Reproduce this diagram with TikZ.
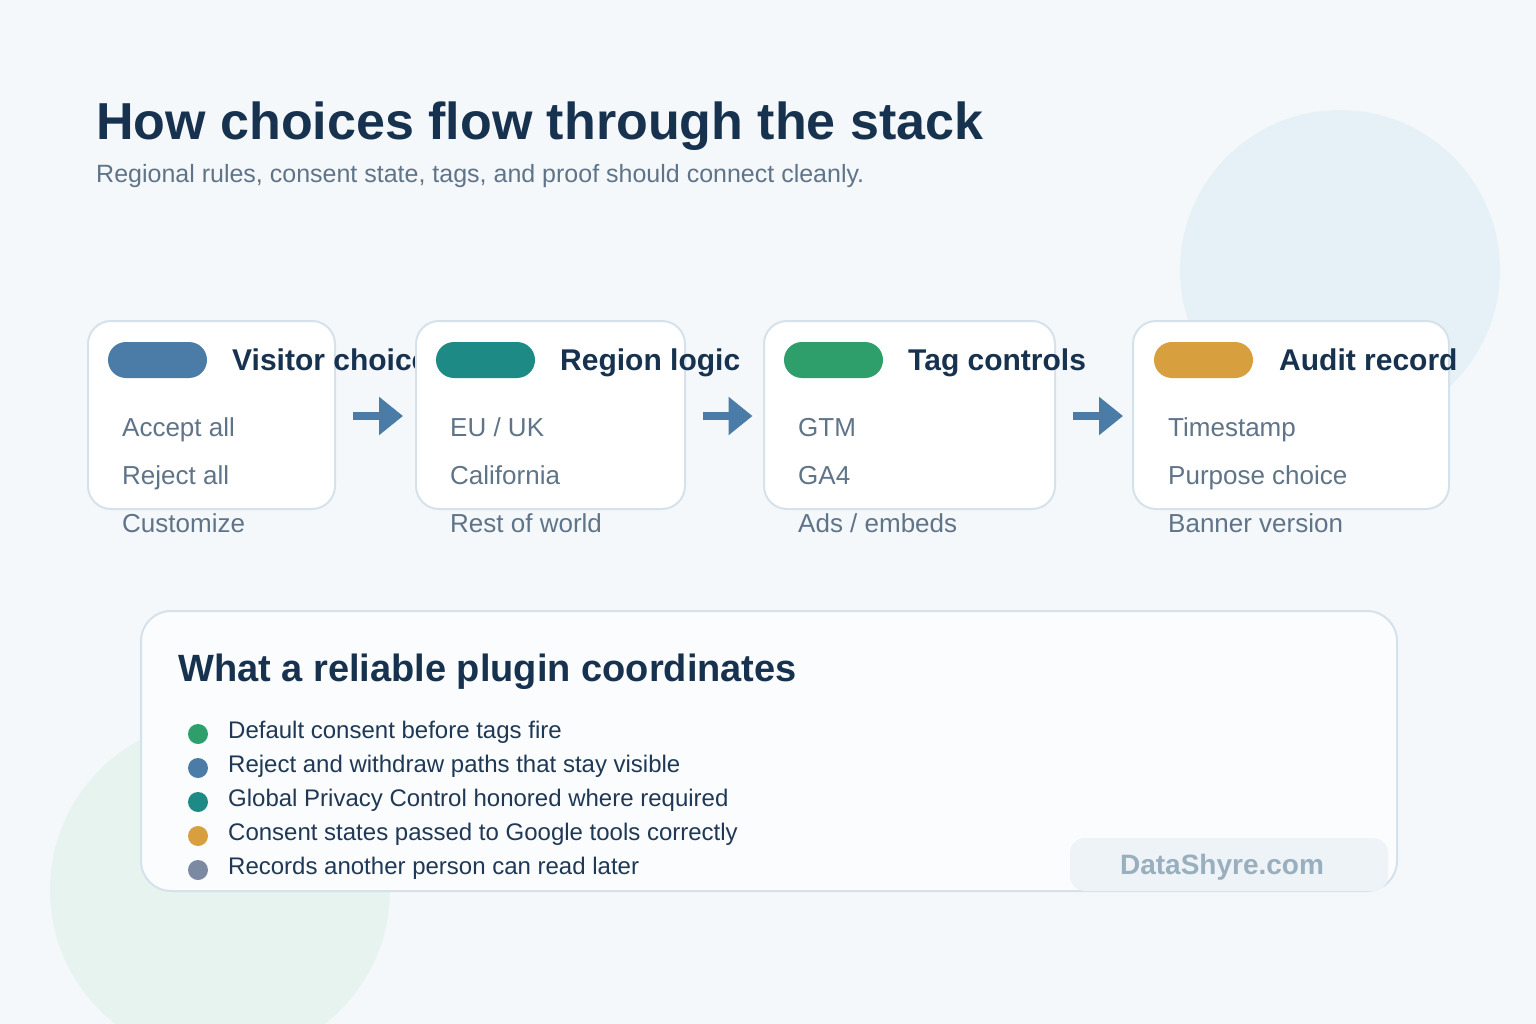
\documentclass[tikz,border=0pt]{standalone}
\usepackage{fontspec}
\setmainfont{Liberation Sans}
\usetikzlibrary{arrows.meta}
\definecolor{bg}{HTML}{F5F8FB}
\definecolor{circA}{HTML}{E5F1F6}
\definecolor{circB}{HTML}{E6F3EE}
\definecolor{ink}{HTML}{17324F}
\definecolor{sub}{HTML}{5F7489}
\definecolor{bul}{HTML}{1F3855}
\definecolor{cardline}{HTML}{D6E2EB}
\definecolor{pblue}{HTML}{4B7CA7}
\definecolor{pteal}{HTML}{1E8A85}
\definecolor{pgreen}{HTML}{2E9E6B}
\definecolor{pgold}{HTML}{D89F3E}
\definecolor{pgray}{HTML}{7B8AA2}
\definecolor{panel}{HTML}{FAFCFE}
\definecolor{badgebg}{HTML}{EDF3F7}
\definecolor{badgetx}{HTML}{9AAFBE}
\tikzset{
  card/.style={draw=cardline, line width=2pt, fill=white, rounded corners=23pt, inner sep=0pt},
  pill/.style={rounded corners=18pt, minimum width=99pt, minimum height=36pt, inner sep=0pt},
  head/.style={anchor=base west, inner sep=0pt, text=ink, font=\fontsize{30}{36}\selectfont\bfseries},
  item/.style={anchor=base west, inner sep=0pt, text=sub, font=\fontsize{26}{30}\selectfont},
  flowarrow/.style={draw=pblue, line width=8pt, -{Triangle[length=24pt,width=37pt]}},
  dot/.style={circle, minimum size=20pt, inner sep=0pt},
  bullettext/.style={anchor=base west, inner sep=0pt, text=bul, font=\fontsize{24}{28}\selectfont},
}
\begin{document}
\begin{tikzpicture}[x=1pt,y=-1pt]
\useasboundingbox (0,0) rectangle (1536,1024);
\fill[bg] (0,0) rectangle (1536,1024);
\fill[circA] (1340,270) circle [radius=160pt];
\fill[circB] (220,890) circle [radius=170pt];

\node[anchor=base west, inner sep=0pt, text=ink, font=\fontsize{52}{60}\selectfont\bfseries] (title) at (96,140) {How choices flow through the stack};
\node[anchor=base west, inner sep=0pt, text=sub, font=\fontsize{25}{30}\selectfont] (subtitle) at (96,183) {Regional rules, consent state, tags, and proof should connect cleanly.};

% card 1
\node[card, minimum width=247pt, minimum height=188pt] (c1) at (211.5,415) {};
\node[pill, fill=pblue] (p1) at (157.5,360) {};
\node[head] (h1) at (232,370) {Visitor choice};
\node[item] (i11) at (122,436) {Accept all};
\node[item] (i12) at (122,484) {Reject all};
\node[item] (i13) at (122,532) {Customize};

% card 2
\node[card, minimum width=269pt, minimum height=188pt] (c2) at (550.5,415) {};
\node[pill, fill=pteal] (p2) at (485.5,360) {};
\node[head] (h2) at (560,370) {Region logic};
\node[item] (i21) at (450,436) {EU / UK};
\node[item] (i22) at (450,484) {California};
\node[item] (i23) at (450,532) {Rest of world};

% card 3
\node[card, minimum width=291pt, minimum height=188pt] (c3) at (909.5,415) {};
\node[pill, fill=pgreen] (p3) at (833.5,360) {};
\node[head] (h3) at (908,370) {Tag controls};
\node[item] (i31) at (798,436) {GTM};
\node[item] (i32) at (798,484) {GA4};
\node[item] (i33) at (798,532) {Ads / embeds};

% card 4
\node[card, minimum width=316pt, minimum height=188pt] (c4) at (1291,415) {};
\node[pill, fill=pgold] (p4) at (1203.5,360) {};
\node[head] (h4) at (1279,370) {Audit record};
\node[item] (i41) at (1168,436) {Timestamp};
\node[item] (i42) at (1168,484) {Purpose choice};
\node[item] (i43) at (1168,532) {Banner version};

% arrows
\draw[flowarrow] ([xshift=17pt,yshift=-1pt]c1.east) -- ([xshift=-12pt,yshift=-1pt]c2.west);
\draw[flowarrow] ([xshift=17pt,yshift=-1pt]c2.east) -- ([xshift=-10.5pt,yshift=-1pt]c3.west);
\draw[flowarrow] ([xshift=17pt,yshift=-1pt]c3.east) -- ([xshift=-9pt,yshift=-1pt]c4.west);

% bottom panel
\node[draw=cardline, line width=2pt, fill=panel, rounded corners=30pt, minimum width=1256pt, minimum height=280pt, inner sep=0pt] (panel) at (769,751) {};
\node[anchor=base west, inner sep=0pt, text=ink, font=\fontsize{38}{44}\selectfont\bfseries] (ptitle) at (178,681) {What a reliable plugin coordinates};

\node[dot, fill=pgreen] (d1) at (198,734) {};
\node[bullettext] (t1) at (228,738) {Default consent before tags fire};
\node[dot, fill=pblue] (d2) at (198,768) {};
\node[bullettext] (t2) at (228,772) {Reject and withdraw paths that stay visible};
\node[dot, fill=pteal] (d3) at (198,802) {};
\node[bullettext] (t3) at (228,806) {Global Privacy Control honored where required};
\node[dot, fill=pgold] (d4) at (198,836) {};
\node[bullettext] (t4) at (228,840) {Consent states passed to Google tools correctly};
\node[dot, fill=pgray] (d5) at (198,870) {};
\node[bullettext] (t5) at (228,874) {Records another person can read later};

% badge
\node[fill=badgebg, rounded corners=15pt, minimum width=318pt, minimum height=53pt, inner sep=0pt] (badge) at (1229,864.5) {};
\node[anchor=base, inner sep=0pt, text=badgetx, font=\fontsize{28}{32}\selectfont\bfseries] (badgetext) at (1222,874) {DataShyre.com};
\end{tikzpicture}
\end{document}
